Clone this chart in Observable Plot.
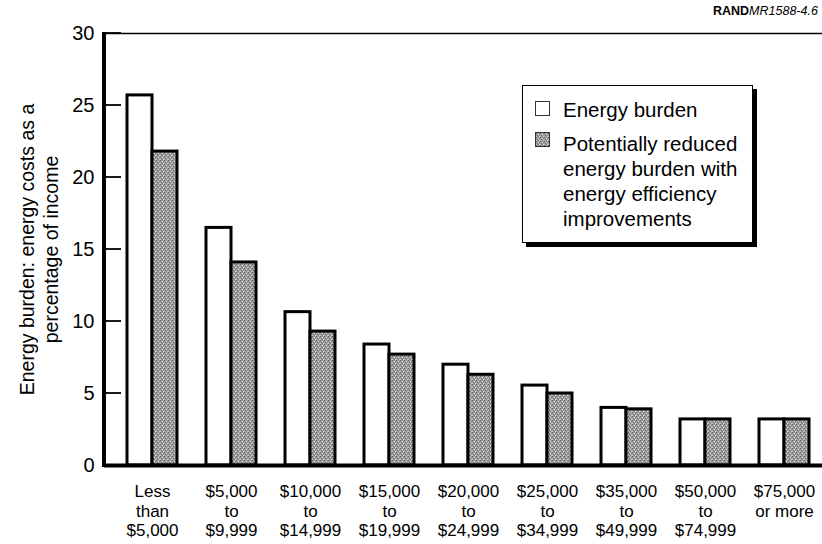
<!DOCTYPE html>
<html><head><meta charset="utf-8">
<script src="https://cdn.jsdelivr.net/npm/d3@7"></script>
<script src="https://cdn.jsdelivr.net/npm/@observablehq/plot@0.6"></script>
<style>
body{margin:0;background:#fff;}
#wrap{position:relative;width:822px;height:544px;overflow:hidden;font-family:"Liberation Sans",Arial,Helvetica,sans-serif;background:#fff;}
#tag{position:absolute;left:713px;top:4px;font-size:12.5px;white-space:nowrap;color:#000;}
#tag b{font-weight:bold;}
#tag i{font-style:italic;}
#legend{position:absolute;left:522px;top:85px;width:229px;height:156px;border:1.5px solid #000;box-shadow:4px 4px 0 #000;background:#fff;color:#000;}
.sw{position:absolute;left:12px;width:15px;height:15px;box-sizing:border-box;border:1px solid #333;}
.lt{position:absolute;left:40px;font-size:20.5px;line-height:25px;white-space:pre;}
</style>
</head><body>
<div id="wrap">
  <div id="chart"></div>
  <div id="tag"></div>
  <div id="legend"></div>
</div>
<script>
const categories = ["Less\nthan\n$5,000", "$5,000\nto\n$9,999", "$10,000\nto\n$14,999", "$15,000\nto\n$19,999", "$20,000\nto\n$24,999", "$25,000\nto\n$34,999", "$35,000\nto\n$49,999", "$50,000\nto\n$74,999", "$75,000\nor more"];
const energyBurden = [25.7, 16.5, 10.65, 8.4, 7.0, 5.55, 4.0, 3.2, 3.2];
const reducedBurden = [21.8, 14.1, 9.3, 7.7, 6.3, 5.0, 3.9, 3.2, 3.2];
const yTicks = [0, 5, 10, 15, 20, 25, 30];
const seriesNames = ["Energy burden", "Potentially reduced\nenergy burden with\nenergy efficiency\nimprovements"];
const yLabel = "Energy burden: energy costs as a\npercentage of income";
const tagBold = "RAND";
const tagItalic = "MR1588-4.6";

const grayFill = "url(#stipple)";
const rows = categories.map((c, i) => ({category: c, burden: energyBurden[i], reduced: reducedBurden[i]}));

const svgns = "http://www.w3.org/2000/svg";
function axisMark(...args) {
  const dims = args.find(a => a && typeof a === "object" && "marginLeft" in a && "height" in a);
  const scales = args.find(a => a && typeof a === "object" && typeof a.y === "function");
  const g = document.createElementNS(svgns, "g");
  const x0 = dims.marginLeft;
  const top = dims.marginTop, bottom = dims.height - dims.marginBottom;
  const left = document.createElementNS(svgns, "line");
  left.setAttribute("x1", x0); left.setAttribute("x2", x0);
  left.setAttribute("y1", top - 1); left.setAttribute("y2", bottom + 2);
  left.setAttribute("stroke", "#000"); left.setAttribute("stroke-width", 4);
  g.appendChild(left);
  for (const t of yTicks) {
    const yy = scales.y(t);
    const tk = document.createElementNS(svgns, "line");
    tk.setAttribute("x1", x0); tk.setAttribute("x2", x0 + 17);
    tk.setAttribute("y1", yy); tk.setAttribute("y2", yy);
    tk.setAttribute("stroke", "#000"); tk.setAttribute("stroke-width", 1.8);
    g.appendChild(tk);
  }
  return g;
}

const chart = Plot.plot({
  width: 822,
  height: 544,
  marginLeft: 104,
  marginRight: 0,
  marginTop: 33,
  marginBottom: 79,
  style: {fontFamily: '"Liberation Sans", Arial, Helvetica, sans-serif', fontSize: "20px", background: "white", color: "#000"},
  x: {domain: categories, paddingInner: 0.371, paddingOuter: 0.2, align: 0.62, axis: null},
  y: {domain: [0, 30], ticks: yTicks, tickSize: 0, tickPadding: 10, label: null},
  marks: [
    Plot.barY(rows, {x: "category", y: "burden", fill: "white", stroke: "#000", strokeWidth: 3, insetRight: 25}),
    Plot.barY(rows, {x: "category", y: "reduced", fill: grayFill, stroke: "#000", strokeWidth: 3, insetLeft: 25}),
    Plot.ruleY([0], {stroke: "#000", strokeWidth: 4}),
    Plot.ruleY([30], {stroke: "#000", strokeWidth: 1.6}),
    axisMark,
    Plot.text(rows, {x: "category", text: "category", frameAnchor: "bottom", lineAnchor: "top", dy: 17, fontSize: 17, lineHeight: 1.17, fill: "#000"}),
    Plot.text([yLabel], {text: d => d, frameAnchor: "left", rotate: -90, dx: -66, fontSize: 19.5, lineHeight: 1.22, lineAnchor: "middle", textAnchor: "middle", fill: "#000"})
  ]
});

// stipple pattern for the gray bars
const defs = document.createElementNS(svgns, "defs");
defs.innerHTML = `<pattern id="stipple" width="4" height="4" patternUnits="userSpaceOnUse">
<rect width="4" height="4" fill="#a2a2a2"/>
<rect x="0" y="0" width="1" height="1" fill="#5a5a5a"/>
<rect x="2" y="1" width="1" height="1" fill="#dedede"/>
<rect x="1" y="2" width="1" height="1" fill="#666"/>
<rect x="3" y="3" width="1" height="1" fill="#d0d0d0"/>
<rect x="3" y="1" width="1" height="1" fill="#777"/>
<rect x="0" y="3" width="1" height="1" fill="#c4c4c4"/>
<rect x="2" y="3" width="1" height="1" fill="#707070"/>
</pattern>`;
chart.insertBefore(defs, chart.firstChild);
document.getElementById("chart").appendChild(chart);

document.getElementById("tag").innerHTML = `<b>${tagBold}</b><i>${tagItalic}</i>`;

const legend = document.getElementById("legend");
const swTops = [15, 46];
const textTops = [11, 45];
seriesNames.forEach((name, i) => {
  const sw = document.createElement("div");
  sw.className = "sw";
  sw.style.top = swTops[i] + "px";
  if (i === 0) sw.style.background = "#fff";
  else sw.innerHTML = `<svg width="13" height="13" style="display:block"><rect width="13" height="13" fill="${grayFill}"/></svg>`;
  legend.appendChild(sw);
  const t = document.createElement("div");
  t.className = "lt";
  t.style.top = textTops[i] + "px";
  t.textContent = name;
  legend.appendChild(t);
});
</script>
</body></html>
